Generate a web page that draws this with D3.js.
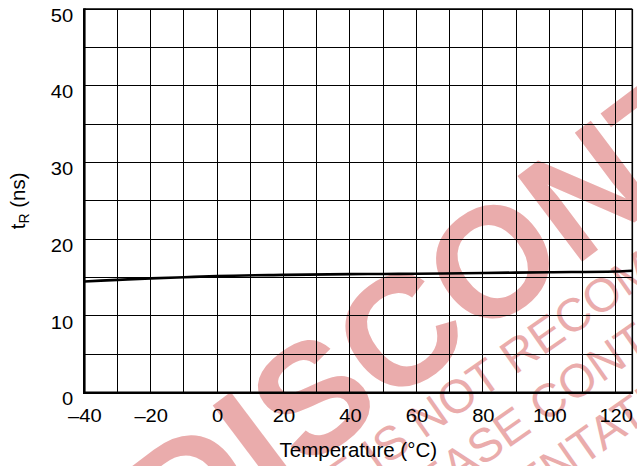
<!DOCTYPE html>
<html>
<head>
<meta charset="utf-8">
<script src="https://cdn.jsdelivr.net/npm/d3@7"></script>
<style>
  body { margin: 0; background: #fff; }
  svg { display: block; font-family: "Liberation Sans", Arial, Helvetica, sans-serif; }
</style>
</head>
<body>
<div id="chart"></div>
<script>
var svgWidth = 637;
var svgHeight = 466;

// data
var temps = [-40, -30, -20, -10, 0, 20, 40, 60, 80, 100, 120, 125];
var riseTime = [14.5, 14.7, 14.9, 15.05, 15.2, 15.35, 15.45, 15.5, 15.6, 15.7, 15.8, 15.9];

// ticks
var xTickLabels = [-40, -20, 0, 20, 40, 60, 80, 100, 120];
var yTickLabels = [0, 10, 20, 30, 40, 50];
var xGrid = d3.range(-40, 121, 10);
var yGrid = d3.range(0, 51, 5);

var plot = { left: 84.3, right: 632.3, top: 9, bottom: 392.7 };

var svg = d3.select("#chart")
  .append("svg")
  .attr("width", svgWidth)
  .attr("height", svgHeight);

var x = d3.scaleLinear().domain([-40, 125]).range([plot.left, plot.right]);
var y = d3.scaleLinear().domain([0, 50]).range([plot.bottom, plot.top]);

// watermark (behind the grid)
var wmColor = "rgb(234,172,172)";
var wm = svg.append("g").attr("fill", wmColor);

// put the centre of character idx of str at (cx, cy)
function stamp(str, idx, cx, cy, angle, size, weight) {
  var g = wm.append("g").attr("transform", `translate(${cx},${cy}) rotate(${angle})`);
  var t = g.append("text")
    .attr("font-size", size)
    .attr("font-weight", weight)
    .attr("dy", "0.36em")
    .text(str);
  var before = idx > 0 ? t.node().getSubStringLength(0, idx) : 0;
  var w = t.node().getSubStringLength(idx, 1);
  t.attr("x", -(before + w / 2));
}

stamp("DISCONTINUED", 3, 398, 330, -37, 156, "bold");
stamp("THIS DEVICE IS NOT RECOMMENDED FOR NEW DESIGN", 19, 519, 352, -35, 47, "normal");
stamp("PLEASE CONTACT YOUR ON SEMICONDUCTOR", 7, 548, 400, -35, 47, "normal");
stamp("REPRESENTATIVE FOR INFORMATION", 9, 605, 430, -35, 47, "normal");

// grid
var grid = svg.append("g")
  .attr("stroke", "#000")
  .attr("stroke-width", 1)
  .attr("shape-rendering", "crispEdges");

grid.selectAll(".vx")
  .data(xGrid)
  .enter()
  .append("line")
  .attr("x1", d => x(d))
  .attr("x2", d => x(d))
  .attr("y1", plot.top)
  .attr("y2", plot.bottom);

grid.selectAll(".hy")
  .data(yGrid)
  .enter()
  .append("line")
  .attr("x1", plot.left)
  .attr("x2", plot.right)
  .attr("y1", d => y(d))
  .attr("y2", d => y(d));

// frame
svg.append("line")
  .attr("x1", plot.left).attr("x2", plot.right)
  .attr("y1", plot.top).attr("y2", plot.top)
  .attr("stroke", "#000").attr("stroke-width", 1.6);
svg.append("line")
  .attr("x1", plot.right).attr("x2", plot.right)
  .attr("y1", plot.top).attr("y2", plot.bottom)
  .attr("stroke", "#000").attr("stroke-width", 1.6);
svg.append("line")
  .attr("x1", plot.left).attr("x2", plot.left)
  .attr("y1", plot.top - 0.8).attr("y2", plot.bottom + 1.2)
  .attr("stroke", "#000").attr("stroke-width", 2.6);
svg.append("line")
  .attr("x1", plot.left - 1.2).attr("x2", plot.right + 0.8)
  .attr("y1", plot.bottom).attr("y2", plot.bottom)
  .attr("stroke", "#000").attr("stroke-width", 2.4);

// the curve
var curve = d3.line()
  .x((d, i) => x(temps[i]))
  .y(d => y(d))
  .curve(d3.curveMonotoneX);

svg.append("path")
  .datum(riseTime)
  .attr("d", curve)
  .attr("fill", "none")
  .attr("stroke", "#000")
  .attr("stroke-width", 2.6);

// axes (labels only)
var bottomAxis = d3.axisBottom(x)
  .tickValues(xTickLabels)
  .tickSize(0)
  .tickPadding(17)
  .tickFormat(d => d < 0 ? "\u2013" + Math.abs(d) : d);

var leftAxis = d3.axisLeft(y)
  .tickValues(yTickLabels)
  .tickSize(0)
  .tickPadding(10);

var gx = svg.append("g")
  .attr("transform", `translate(0, ${plot.bottom})`)
  .call(bottomAxis);
var gy = svg.append("g")
  .attr("transform", `translate(${plot.left}, 0)`)
  .call(leftAxis);

[gx, gy].forEach(function(g) {
  g.select(".domain").remove();
  g.selectAll("text")
    .attr("font-family", "Liberation Sans, Arial, sans-serif")
    .attr("font-size", 18)
    .attr("fill", "#000");
});
gx.selectAll("text").attr("transform", "scale(1.12,1)");
gy.selectAll("text")
  .attr("dy", "0.68em")
  .attr("transform", "scale(1.12,1)");

// axis titles
svg.append("text")
  .attr("x", (plot.left + plot.right) / 2)
  .attr("y", 456.5)
  .attr("text-anchor", "middle")
  .attr("font-size", 20.5)
  .text("Temperature (\u00B0C)");

var yt = svg.append("text")
  .attr("transform", `translate(25, ${(plot.top + plot.bottom) / 2}) rotate(-90)`)
  .attr("text-anchor", "middle")
  .attr("font-size", 20.5);
yt.append("tspan").text("t");
yt.append("tspan").attr("font-size", 14).attr("dy", 4).text("R");
yt.append("tspan").attr("dy", -4).text(" (ns)");
</script>
</body>
</html>
